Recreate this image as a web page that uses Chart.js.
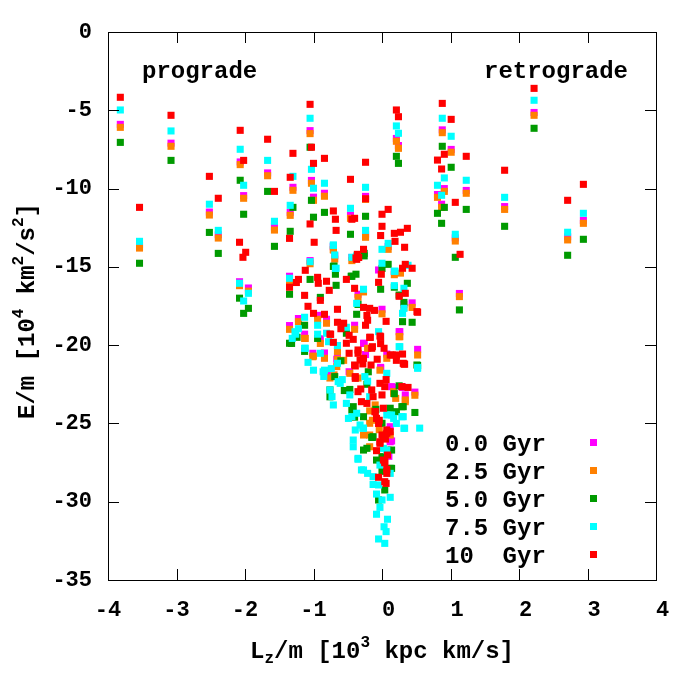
<!DOCTYPE html>
<html lang="en">
<head>
  <meta charset="UTF-8" />
  <title>E/m vs Lz/m</title>
  <script src="https://cdn.jsdelivr.net/npm/chart.js@4.4.1/dist/chart.umd.min.js"></script>
  <style>
    body { margin: 0; background: #fff; }
    #wrap { width: 700px; height: 700px; }
  </style>
</head>
<body>
  <div id="wrap"><canvas id="plot"></canvas></div>

  <script>
    // tick values
    const xTicks = [-4, -3, -2, -1, 0, 1, 2, 3, 4];
    const yTicks = [0, -5, -10, -15, -20, -25, -30, -35];
    const seriesNames = ["0.0 Gyr", "2.5 Gyr", "5.0 Gyr", "7.5 Gyr", "10  Gyr"];

    // [Lz/m, E/m]
    const pts00 = [
      [-3.82,-5.9],[-3.08,-7.1],[-3.54,-13.6],[-2.52,-11.5],[-2.39,-12.95],[-2.07,-8.3],[-2.02,-10.45],
      [-1.67,-9.0],[-1.57,-12.45],[-1.30,-9.92],[-1.34,-11.52],[-1.05,-6.3],[-1.03,-9.48],[-1.00,-10.55],
      [-0.84,-10.3],[-0.46,-11.7],[-0.24,-10.5],[-0.24,-12.92],[-0.71,-13.72],[-0.44,-14.4],[0.09,-13.7],
      [0.18,-15.3],[0.21,-6.8],[0.24,-7.25],[0.88,-6.25],[0.91,-10.0],[0.81,-10.38],[0.87,-11.0],[1.01,-7.5],
      [1.07,-13.15],[1.23,-10.12],[1.79,-11.15],[2.22,-5.14],[2.71,-13.08],[2.94,-12.04],[1.13,-16.7],
      [-2.08,-15.95],[-1.95,-16.35],[-1.35,-15.6],[-1.05,-14.6],[-0.71,-13.7],[-0.69,-14.3],[-0.35,-16.75],
      [0.32,-17.4],[0.44,-17.3],[-1.22,-18.3],[-1.35,-18.75],[-1.13,-19.3],[-0.94,-18.1],[-0.81,-18.35],
      [-0.90,-19.6],[-0.65,-20.03],[-0.65,-20.7],[-0.40,-18.73],[0.0,-17.71],[0.25,-19.14],[0.52,-20.27],
      [-0.02,-21.48],[-0.27,-19.88],[-0.24,-20.6],[-0.84,-20.5],[-1.01,-20.52],[-0.66,-20.9],[-0.48,-21.7],
      [-0.26,-19.89],[-0.02,-21.42],[0.07,-20.57],[0.26,-19.14],[0.17,-22.7],[0.30,-22.7],[0.34,-23.18],
      [0.11,-25.4],[0.14,-26.12],[0.12,-25.21],[0.12,-26.17],[0.10,-27.1],[0.48,-23.0],[-0.05,-15.2],
      [-0.76,-21.9],[0.14,-22.65],[0.29,-22.65],[0.12,-26.06]
    ];
    const pts25 = [
      [-3.82,-6.09],[-3.08,-7.3],[-3.54,-13.8],[-2.52,-11.69],[-2.39,-13.16],[-2.07,-8.47],[-2.02,-10.62],
      [-1.67,-9.18],[-1.57,-12.65],[-1.30,-10.11],[-1.34,-11.71],[-1.05,-6.49],[-1.03,-9.66],[-1.00,-10.75],
      [-0.84,-10.49],[-0.46,-11.9],[-0.24,-10.69],[-0.24,-13.11],[-0.71,-13.92],[-0.44,-14.6],[0.09,-13.88],
      [0.18,-15.5],[0.27,-15.4],[0.21,-6.98],[0.24,-7.43],[0.88,-6.43],[0.91,-10.18],[0.81,-10.56],[0.87,-11.2],
      [1.01,-7.68],[1.07,-13.35],[1.23,-10.3],[1.79,-11.33],[2.22,-5.32],[2.71,-13.28],[2.94,-12.22],[1.13,-16.9],
      [-2.08,-16.2],[-1.95,-16.55],[-1.35,-15.9],[-1.05,-14.8],[-0.71,-13.9],[-0.69,-14.5],[-0.35,-16.95],
      [-0.27,-16.6],[0.32,-17.6],[0.44,-17.59],[-1.22,-18.5],[-1.35,-18.99],[-1.13,-19.57],[-0.94,-18.35],
      [-0.81,-18.6],[-0.90,-19.89],[-0.65,-20.4],[-0.65,-20.9],[-0.56,-20.97],[-0.40,-18.99],[0.0,-18.0],
      [0.25,-19.46],[0.52,-20.63],[-0.03,-21.6],[-0.21,-20.2],[-0.84,-20.84],[-1.0,-20.7],[-1.12,-19.57],
      [-1.01,-20.74],[-0.66,-21.37],[-0.70,-21.9],[-0.47,-21.8],[-0.35,-22.1],[-0.18,-24.2],[-0.10,-23.82],
      [0.07,-20.84],[0.26,-19.46],[0.17,-22.97],[0.20,-23.4],[0.34,-23.5],[0.12,-25.74],[-0.18,-26.49],
      [0.05,-25.7],[-0.27,-25.74],[-0.14,-24.8],[-0.04,-25.4],[0.48,-23.2],
      [-0.76,-22.1],[0.17,-23.08],[0.34,-23.61],[-0.18,-24.99],[-0.18,-25.74],[0.09,-26.7]
    ];
    const pts50 = [
      [-3.82,-7.05],[-3.08,-8.2],[-3.54,-14.77],[-2.52,-12.8],[-2.39,-14.14],[-2.07,-9.47],[-2.02,-11.64],
      [-1.67,-10.18],[-1.57,-13.69],[-1.30,-11.2],[-1.34,-12.73],[-1.05,-7.36],[-1.03,-10.75],[-1.00,-11.83],
      [-0.84,-11.52],[-0.46,-12.92],[-0.24,-11.77],[-0.71,-14.97],[-0.68,-15.47],[-0.44,-15.6],[-0.38,-15.47],
      [-0.26,-14.14],[0.0,-15.1],[0.09,-14.84],[0.21,-7.94],[0.24,-8.39],[0.88,-7.3],[0.91,-11.2],[0.81,-11.58],
      [0.87,-12.22],[1.01,-8.64],[1.07,-14.39],[1.23,-11.33],[1.79,-12.41],[2.22,-6.15],[2.71,-14.26],
      [2.94,-13.24],[1.13,-17.75],[-2.08,-17.0],[-1.95,-17.65],[-2.02,-17.97],[-1.35,-16.75],[-1.05,-15.8],
      [-0.90,-16.95],[-0.67,-16.18],[-0.70,-14.95],[-0.45,-15.6],[-0.26,-14.3],[-0.35,-17.4],[-0.37,-18.03],
      [-0.02,-16.43],[0.18,-16.3],[0.25,-16.8],[0.37,-16.05],[0.32,-17.27],[0.44,-18.54],[0.30,-18.5],
      [-1.13,-18.73],[-1.24,-19.5],[-1.35,-19.88],[-1.13,-20.4],[-0.94,-19.57],[-0.52,-19.24],[0.52,-21.3],
      [-1.32,-19.89],[-0.76,-22.86],[-0.76,-23.3],[-0.47,-22.83],[-0.44,-24.14],[-0.40,-24.6],[-0.20,-21.7],
      [-0.22,-22.5],[-0.09,-24.1],[0.0,-24.99],[0.12,-24.03],[0.21,-24.25],[0.31,-23.93],[-0.14,-25.89],
      [-0.22,-26.59],[0.51,-21.27],[0.25,-22.6],[0.18,-23.1],[-0.27,-26.7],[-0.15,-25.89],[-0.08,-27.34],
      [0.0,-28.06],[0.04,-29.25],[-0.05,-29.89],[0.14,-27.87],[0.14,-26.7],[0.48,-24.3],[-0.55,-22.9],[-0.60,-21.0],
      [-0.69,-22.01],[-0.27,-24.57],[-0.42,-23.93],[-0.13,-25.85],[0.0,-27.12],[0.12,-27.87],[0.29,-23.93]
    ];
    const pts75 = [
      [-3.82,-4.98],[-3.08,-6.32],[-3.54,-13.37],[-2.52,-11.0],[-2.39,-12.67],[-2.07,-7.49],[-2.02,-9.79],
      [-1.67,-8.2],[-1.57,-12.09],[-1.30,-9.22],[-1.34,-11.07],[-1.05,-5.51],[-1.03,-8.77],[-1.00,-9.98],
      [-0.84,-9.66],[-0.46,-11.26],[-0.24,-9.92],[-0.24,-12.67],[-0.71,-13.63],[-0.68,-15.1],[-0.44,-14.39],
      [0.0,-13.88],[0.09,-13.5],[0.0,-14.77],[0.18,-15.28],[0.38,-14.9],[0.21,-6.0],[0.24,-6.47],[0.88,-5.51],
      [0.91,-9.32],[0.81,-9.79],[0.87,-10.43],[1.01,-6.66],[1.07,-12.92],[1.23,-9.47],[1.79,-10.56],[2.22,-4.36],
      [2.71,-12.79],[2.94,-11.58],[-2.08,-16.05],[-1.95,-16.69],[-2.02,-17.18],[-1.35,-15.73],[-1.05,-14.67],
      [-0.67,-15.09],[-0.71,-13.6],[-0.69,-14.24],[-0.37,-14.3],[-0.27,-16.43],[-0.37,-17.33],[0.19,-15.28],
      [0.18,-16.2],[0.32,-16.37],[0.32,-17.65],[0.30,-17.97],[-1.13,-18.22],[-1.22,-18.95],[-1.26,-19.3],
      [-1.31,-19.57],[-1.13,-20.2],[-1.08,-21.1],[-1.0,-21.6],[-0.90,-20.52],[-0.84,-21.6],[-0.94,-18.73],
      [-0.94,-19.3],[-0.81,-19.24],[-0.78,-19.78],[-0.65,-20.03],[-0.65,-21.16],[-0.52,-18.86],[-0.05,-19.14],
      [0.25,-20.1],[0.52,-21.48],[-1.27,-19.14],[-1.12,-20.2],[-0.64,-22.33],[-0.58,-22.2],[-0.76,-22.86],
      [-0.71,-23.82],[-0.52,-23.72],[-0.47,-23.18],[-0.44,-24.57],[-0.37,-24.35],[-0.39,-25.42],[-0.32,-25.1],
      [-0.28,-25.3],[-0.42,-26.06],[-0.25,-22.01],[-0.21,-22.3],[-0.18,-23.29],[0.07,-21.8],[0.07,-24.46],
      [0.17,-24.68],[0.31,-24.57],[0.32,-25.31],[0.52,-21.42],[0.26,-20.1],[-0.85,-22.0],[-0.74,-21.5],
      [-0.35,-27.29],[-0.30,-27.97],[-0.21,-28.19],[-0.13,-28.4],[-0.05,-28.93],[-0.08,-29.51],[0.0,-29.89],
      [0.12,-29.72],[-0.03,-30.36],[-0.08,-30.8],[0.08,-31.12],[0.03,-31.6],[0.06,-31.91],[-0.05,-32.38],
      [0.04,-32.66],[0.33,-25.31],[0.21,-25.0],[-0.42,-26.49],[0.02,-26.59],[-0.03,-27.66],[0.12,-28.19],
      [-0.13,-28.9],[0.55,-25.3],
      [-0.86,-21.7],[-0.61,-22.44],[-0.73,-23.29],[-0.49,-24.68],[-0.27,-25.31],[0.14,-24.46],[0.29,-24.57],
      [0.07,-26.7],[-0.35,-27.23],[-0.27,-27.97]
    ];
    const pts10 = [
      [-3.82,-4.17],[-3.08,-5.32],[-3.54,-11.2],[-2.52,-9.22],[-2.39,-10.62],[-2.07,-6.28],[-2.02,-8.2],
      [-1.67,-6.85],[-1.57,-10.18],[-1.30,-7.75],[-1.34,-9.28],[-1.35,-13.18],[-1.05,-4.62],[-1.03,-7.36],
      [-1.00,-8.39],[-0.84,-8.07],[-0.46,-9.41],[-0.24,-8.32],[-0.24,-10.65],[-2.08,-13.43],[-2.03,-14.39],
      [-1.99,-14.07],[-1.05,-12.26],[-0.99,-13.43],[-0.71,-11.43],[-0.68,-11.96],[-0.67,-12.67],[-0.44,-11.96],
      [-0.40,-11.9],[-0.38,-14.43],[-0.36,-14.2],[-0.27,-13.88],[0.0,-11.64],[0.0,-12.41],[-0.02,-13.0],
      [0.09,-11.33],[0.18,-12.86],[0.27,-12.79],[0.37,-12.54],[0.19,-13.37],[0.33,-13.75],[0.34,-14.84],
      [0.44,-15.09],[0.30,-15.09],[-0.01,-15.47],[0.21,-4.98],[0.24,-5.41],[0.88,-4.56],[0.91,-7.81],
      [0.81,-8.18],[0.87,-8.75],[1.01,-5.58],[1.07,-10.88],[1.14,-14.2],[1.23,-7.94],[1.79,-8.83],[2.22,-3.6],
      [2.71,-10.75],[2.94,-9.73],[-1.12,-15.22],[-1.22,-15.8],[-1.25,-16.0],[-1.35,-16.3],[-1.13,-16.82],
      [-0.94,-15.67],[-0.93,-16.05],[-0.81,-15.92],[-0.77,-16.5],[-0.90,-17.14],[-0.52,-15.8],[-0.40,-16.37],
      [-0.37,-14.52],[-0.34,-14.4],[-0.11,-17.78],[-0.18,-17.65],[-0.27,-17.59],[-0.05,-15.99],[0.25,-16.88],
      [0.52,-17.9],[-0.65,-17.71],[-1.0,-17.97],[-1.08,-17.52],[-0.84,-18.03],[-0.75,-19.31],[-0.71,-19.82],
      [-0.65,-18.54],[-0.56,-18.6],[-0.60,-18.95],[-0.48,-19.37],[-0.42,-19.63],[-0.52,-19.88],[-0.24,-18.73],
      [-0.21,-18.41],[-0.22,-18.1],[-0.17,-19.5],[-0.02,-19.46],[-0.02,-19.9],[-0.14,-20.1],[0.03,-20.2],
      [0.15,-20.63],[0.21,-20.97],[0.33,-21.22],[0.30,-20.57],[0.06,-18.48],[-0.48,-20.52],[-0.40,-21.27],
      [-0.35,-20.52],[-0.27,-20.84],[-0.28,-21.2],[-0.16,-21.27],[-0.07,-20.9],[-0.76,-19.29],[-0.18,-19.5],
      [-0.03,-19.42],[-0.35,-20.31],[-0.32,-20.95],[-0.39,-21.33],[-0.15,-20.2],[0.12,-20.63],[0.32,-21.2],
      [-0.39,-22.01],[-0.35,-22.97],[-0.31,-22.8],[-0.30,-23.61],[-0.22,-23.72],[-0.15,-22.86],[-0.13,-23.29],
      [-0.03,-22.44],[0.0,-23.18],[0.04,-22.65],[0.06,-22.2],[0.02,-24.03],[-0.10,-24.25],[-0.08,-24.68],
      [-0.04,-24.8],[0.07,-25.42],[0.12,-25.53],[-0.03,-26.17],[0.05,-26.0],[-0.05,-25.0],[0.02,-25.85],
      [-0.03,-26.27],[-0.08,-26.74],[0.08,-27.02],[0.04,-27.51],[0.07,-27.93],[-0.05,-28.44],[0.06,-28.83],
      [0.29,-22.65],[0.31,-21.16],[0.21,-20.63],[0.51,-17.86],[0.34,-16.69],[0.07,-25.63],[0.02,-27.34],
      [0.07,-28.19],[0.04,-28.72],[0.38,-22.7],
      [-0.39,-22.12],[0.09,-25.53],[0.0,-25.74],[0.04,-27.44],[-0.10,-24.25]
    ];

    const colors = ["#ff00ff", "#ff8000", "#009a00", "#00ffff", "#ff0000"];
    const allPts = [pts00, pts25, pts50, pts75, pts10];

    const TXT = 'bold 24px "Liberation Mono", "DejaVu Sans Mono", monospace';
    const TICKF = 'bold 22px "Liberation Mono", "DejaVu Sans Mono", monospace';

    // text with sub/superscript pieces: [text, 0 normal | 1 sup | -1 sub]
    function drawRuns(ctx, runs, cx, cy) {
      const small = 16;
      let total = 0;
      runs.forEach(r => {
        ctx.font = r[1] ? 'bold ' + small + 'px "Liberation Mono", monospace' : TXT;
        total += ctx.measureText(r[0]).width;
      });
      let x = cx - total / 2;
      ctx.textAlign = "left";
      ctx.textBaseline = "middle";
      runs.forEach(r => {
        ctx.font = r[1] ? 'bold ' + small + 'px "Liberation Mono", monospace' : TXT;
        const dy = r[1] === 1 ? -9 : r[1] === -1 ? 7 : 0;
        ctx.fillText(r[0], x, cy + dy);
        x += ctx.measureText(r[0]).width;
      });
    }

    const framePlugin = {
      id: "frame",
      afterDraw(chart) {
        const ctx = chart.ctx;
        const ca = chart.chartArea;
        const xs = chart.scales.x, ys = chart.scales.y;
        ctx.save();
        ctx.strokeStyle = "#000";
        ctx.lineWidth = 1;
        ctx.strokeRect(ca.left + 0.5, ca.top + 0.5, ca.right - ca.left, ca.bottom - ca.top);

        // inward ticks on all four sides
        ctx.beginPath();
        xTicks.forEach(v => {
          const p = Math.round(xs.getPixelForValue(v)) + 0.5;
          ctx.moveTo(p, ca.bottom); ctx.lineTo(p, ca.bottom - 11);
          ctx.moveTo(p, ca.top); ctx.lineTo(p, ca.top + 11);
        });
        yTicks.forEach(v => {
          const p = Math.round(ys.getPixelForValue(v)) + 0.5;
          ctx.moveTo(ca.left, p); ctx.lineTo(ca.left + 11, p);
          ctx.moveTo(ca.right, p); ctx.lineTo(ca.right - 11, p);
        });
        ctx.stroke();

        ctx.fillStyle = "#000";
        ctx.font = TICKF;
        ctx.textBaseline = "middle";
        ctx.textAlign = "center";
        // gnuplot style: positive numbers keep a blank where the sign goes
        xTicks.forEach(v => ctx.fillText((v >= 0 ? " " : "") + v, xs.getPixelForValue(v), ca.bottom + 30));
        ctx.textAlign = "right";
        yTicks.forEach(v => ctx.fillText(String(v), ca.left - 16, ys.getPixelForValue(v)));

        // region labels
        ctx.font = TXT;
        ctx.textAlign = "left";
        ctx.fillText("prograde", ca.left + 34, ca.top + 40);
        ctx.textAlign = "right";
        ctx.fillText("retrograde", ca.right - 28, ca.top + 40);

        // legend
        seriesNames.forEach((name, i) => {
          const yy = ca.bottom - 135 + i * 28;
          ctx.fillStyle = "#000";
          ctx.textAlign = "left";
          ctx.font = TXT;
          ctx.fillText(name, ca.left + 337, yy);
          ctx.fillStyle = colors[i];
          ctx.fillRect(ca.left + 482, yy - 6, 7, 7);
        });

        // axis titles
        ctx.fillStyle = "#000";
        drawRuns(ctx, [["L", 0], ["z", -1], ["/m [10", 0], ["3", 1], [" kpc km/s]", 0]],
          (ca.left + ca.right) / 2, ca.bottom + 72);
        ctx.translate(28, (ca.top + ca.bottom) / 2 + 5);
        ctx.rotate(-Math.PI / 2);
        drawRuns(ctx, [["E/m [10", 0], ["4", 1], [" km", 0], ["2", 1], ["/s", 0], ["2", 1], ["]", 0]], 0, 0);
        ctx.restore();
      }
    };

    const datasets = allPts.map((pts, i) => ({
      label: seriesNames[i],
      data: pts.map(p => ({ x: p[0], y: p[1] })),
      backgroundColor: colors[i],
      pointStyle: "rect",
      pointRadius: 5,
      pointBorderWidth: 0,
      order: 5 - i
    }));

    new Chart(document.getElementById("plot").getContext("2d"), {
      type: "scatter",
      data: { datasets: datasets },
      options: {
        responsive: true,
        maintainAspectRatio: false,
        animation: false,
        events: [],
        layout: { padding: { left: 108, right: 44, top: 32, bottom: 120 } },
        plugins: { legend: { display: false }, tooltip: { enabled: false } },
        scales: {
          x: { type: "linear", min: -4, max: 4, display: false },
          y: { type: "linear", min: -35, max: 0, display: false }
        }
      },
      plugins: [framePlugin]
    });
  </script>
</body>
</html>
